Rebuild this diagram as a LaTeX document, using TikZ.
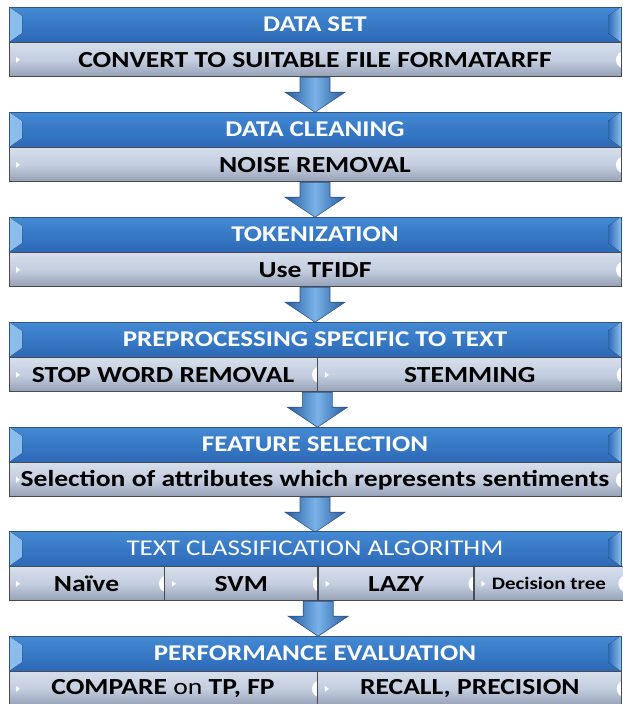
\documentclass[tikz,border=0pt]{standalone}
\usepackage{fontspec}
\setmainfont{Carlito}[FakeStretch=1.2]
\usetikzlibrary{positioning}

\definecolor{hdrtop}{RGB}{68,138,212}
\definecolor{hdrbot}{RGB}{44,104,182}
\definecolor{hdrline}{RGB}{52,84,128}
\definecolor{hdrlight}{RGB}{140,190,236}
\definecolor{subtop}{RGB}{214,221,234}
\definecolor{submid}{RGB}{196,206,224}
\definecolor{subbot}{RGB}{150,160,182}
\definecolor{subline}{RGB}{72,74,84}
\definecolor{arrdark}{RGB}{36,92,162}
\definecolor{arrlight}{RGB}{122,178,232}

\tikzset{
  header/.style={draw=hdrline, line width=0.8pt, top color=hdrtop, bottom color=hdrbot,
    minimum width=612pt, minimum height=35pt, inner sep=0pt, text=white,
    font=\fontsize{22.5}{24}\selectfont\bfseries,
    path picture={
      \fill[left color=hdrlight, right color=hdrtop]
        (path picture bounding box.north west) -- ([xshift=13pt,yshift=-9pt]path picture bounding box.north west)
        -- ([xshift=13pt,yshift=9pt]path picture bounding box.south west) -- (path picture bounding box.south west) -- cycle;
      \fill[right color=hdrlight, left color=hdrbot]
        (path picture bounding box.north east) -- ([xshift=-13pt,yshift=-9pt]path picture bounding box.north east)
        -- ([xshift=-13pt,yshift=9pt]path picture bounding box.south east) -- (path picture bounding box.south east) -- cycle;
    }},
  subcell/.style={draw=subline, line width=0.8pt, top color=subtop, bottom color=subbot, middle color=submid,
    minimum height=34pt, inner sep=0pt, text=black,
    font=\fontsize{23}{25}\selectfont\bfseries,
    path picture={
      \fill[white] ([xshift=7pt,yshift=3pt]path picture bounding box.west) -- ([xshift=11pt]path picture bounding box.west)
        -- ([xshift=7pt,yshift=-3pt]path picture bounding box.west) -- cycle;
      \fill[white] ([xshift=2pt]path picture bounding box.east) ellipse [x radius=7pt, y radius=8pt];
    }},
  downarr/.pic={
    \path[draw=hdrline, line width=0.6pt, left color=arrdark, right color=arrdark, middle color=arrlight]
      (-15,0) -- (15,0) -- (15,15) -- (30,15) -- (0,35) -- (-30,15) -- (-15,15) -- cycle;
  },
}

\begin{document}
\begin{tikzpicture}[x=1pt,y=-1pt]
    \useasboundingbox (0,0) rectangle (623,704);

    \node[header] (dataset) at (315,24.5) {DATA SET};
    \node[subcell, minimum width=612pt, below=0pt of dataset] (convert) {CONVERT TO SUITABLE FILE FORMATARFF};
    \pic at (convert.south) {downarr};

    \node[header] (cleaning) at (315,129.5) {DATA CLEANING};
    \node[subcell, minimum width=612pt, below=0pt of cleaning] (noise) {NOISE REMOVAL};
    \pic at (noise.south) {downarr};

    \node[header] (token) at (315,234.5) {TOKENIZATION};
    \node[subcell, minimum width=612pt, below=0pt of token] (tfidf) {Use TFIDF};
    \pic at (tfidf.south) {downarr};

    \node[header] (preproc) at (315,339.5) {PREPROCESSING SPECIFIC TO TEXT};
    \node[subcell, minimum width=308pt, anchor=north west] (stopword) at (preproc.south west) {STOP WORD REMOVAL};
    \node[subcell, minimum width=304pt, right=0pt of stopword] (stemming) {STEMMING};
    \pic at (stopword.south east) {downarr};

    \node[header] (featsel) at (315,444.5) {FEATURE SELECTION};
    \node[subcell, minimum width=612pt, below=0pt of featsel] (selattr) {Selection of attributes which represents sentiments};
    \pic at (selattr.south) {downarr};

    \node[header, font=\fontsize{22.5}{24}\selectfont] (textclass) at (315,548.5) {TEXT CLASSIFICATION ALGORITHM};
    \node[subcell, minimum width=155pt, anchor=north west] (naive) at (textclass.south west) {Naïve};
    \node[subcell, minimum width=153pt, right=0pt of naive] (svm) {SVM};
    \node[subcell, minimum width=155pt, right=0pt of svm] (lazy) {LAZY};
    \node[subcell, minimum width=149pt, right=0pt of lazy, font=\fontsize{17.5}{19}\selectfont\bfseries] (dtree) {Decision tree};
    \pic at (svm.south east) {downarr};

    \node[header] (perfeval) at (315,653.5) {PERFORMANCE EVALUATION};
    \node[subcell, minimum width=308pt, anchor=north west] (compare) at (perfeval.south west) {COMPARE {\mdseries on} TP, FP};
    \node[subcell, minimum width=304pt, right=0pt of compare] (recall) {RECALL, PRECISION};
\end{tikzpicture}
\end{document}
